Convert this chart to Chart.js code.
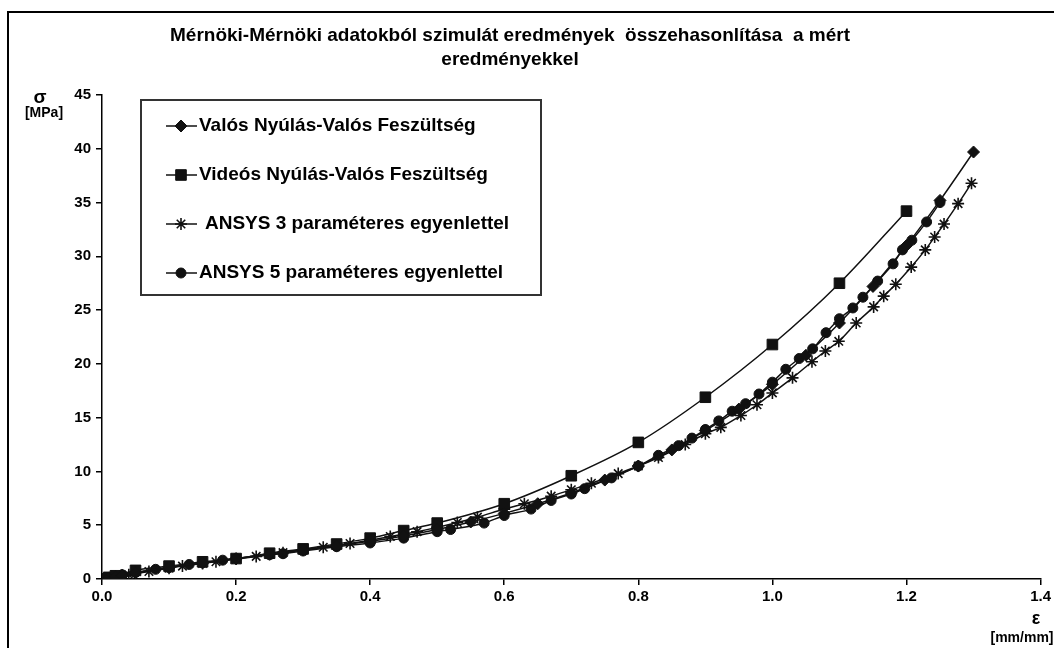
<!DOCTYPE html>
<html>
<head>
<meta charset="utf-8">
<script src="https://cdn.jsdelivr.net/npm/chart.js@4.4.1/dist/chart.umd.min.js"></script>
<style>
  html, body { margin: 0; padding: 0; background: #fff; overflow: hidden; }
  #wrap { position: relative; width: 1054px; height: 648px; }
  #frame { position: absolute; left: 7px; top: 11px; width: 1070px; height: 680px; border: 2px solid #000; }
  canvas { position: absolute; left: 0; top: 0; }
</style>
</head>
<body>
<div id="wrap">
  <div id="frame"></div>
  <canvas id="chart" width="1054" height="648"></canvas>
</div>
<script>
// --- data ---
const titleLines = ['Mérnöki-Mérnöki adatokból szimulát eredmények  összehasonlítása  a mért', 'eredményekkel'];
const seriesNames = [
  'Valós Nyúlás-Valós Feszültség',
  'Videós Nyúlás-Valós Feszültség',
  'ANSYS 3 paraméteres egyenlettel',
  'ANSYS 5 paraméteres egyenlettel'
];
const xTicks = [0, 0.2, 0.4, 0.6, 0.8, 1.0, 1.2, 1.4];
const yTicks = [0, 5, 10, 15, 20, 25, 30, 35, 40, 45];

const valosX = [0, 0.01, 0.02, 0.03, 0.05, 0.1, 0.15, 0.2, 0.25, 0.3, 0.35, 0.4, 0.45, 0.5, 0.55, 0.6, 0.65, 0.7, 0.75, 0.8, 0.85, 0.9, 0.95, 1.0, 1.05, 1.1, 1.15, 1.2, 1.25, 1.3];
const valosY = [0, 0.1, 0.2, 0.35, 0.6, 1.1, 1.5, 1.9, 2.3, 2.7, 3.1, 3.5, 4.0, 4.6, 5.3, 6.1, 7.0, 8.0, 9.2, 10.5, 12.0, 13.8, 15.8, 18.1, 20.8, 23.8, 27.2, 31.0, 35.2, 39.7];

const videoX = [0, 0.01, 0.02, 0.05, 0.1, 0.15, 0.2, 0.25, 0.3, 0.35, 0.4, 0.45, 0.5, 0.6, 0.7, 0.8, 0.9, 1.0, 1.1, 1.2];
const videoY = [0, 0.15, 0.3, 0.8, 1.2, 1.6, 1.9, 2.4, 2.8, 3.25, 3.8, 4.5, 5.2, 7.0, 9.6, 12.7, 16.9, 21.8, 27.5, 34.2];

const ansys3X = [0, 0.02, 0.04, 0.07, 0.1, 0.12, 0.15, 0.17, 0.2, 0.23, 0.27, 0.3, 0.33, 0.37, 0.4, 0.43, 0.47, 0.5, 0.53, 0.56, 0.6, 0.63, 0.67, 0.7, 0.73, 0.77, 0.8, 0.83, 0.87, 0.9, 0.923, 0.953, 0.977, 1.0, 1.03, 1.059, 1.079, 1.099, 1.125, 1.151, 1.166, 1.184, 1.207, 1.228, 1.242, 1.256, 1.277, 1.297];
const ansys3Y = [0, 0.2, 0.4, 0.7, 1.0, 1.2, 1.45, 1.6, 1.85, 2.1, 2.45, 2.7, 2.95, 3.3, 3.6, 3.95, 4.4, 4.8, 5.25, 5.75, 6.5, 7.0, 7.7, 8.3, 8.9, 9.8, 10.5, 11.3, 12.5, 13.5, 14.1, 15.2, 16.2, 17.3, 18.7, 20.2, 21.2, 22.1, 23.8, 25.3, 26.3, 27.4, 29.0, 30.6, 31.8, 33.0, 34.9, 36.8];

const ansys5X = [0, 0.01, 0.02, 0.03, 0.05, 0.08, 0.1, 0.13, 0.15, 0.18, 0.2, 0.25, 0.27, 0.3, 0.35, 0.4, 0.45, 0.5, 0.52, 0.57, 0.6, 0.64, 0.67, 0.7, 0.72, 0.76, 0.8, 0.83, 0.86, 0.88, 0.9, 0.92, 0.94, 0.96, 0.98, 1.0, 1.02, 1.04, 1.06, 1.08, 1.1, 1.12, 1.135, 1.157, 1.18, 1.194, 1.208, 1.23, 1.25];
const ansys5Y = [0, 0.1, 0.25, 0.4, 0.6, 0.9, 1.05, 1.35, 1.5, 1.75, 1.9, 2.25, 2.35, 2.6, 3.0, 3.35, 3.8, 4.4, 4.6, 5.2, 5.9, 6.5, 7.3, 7.9, 8.4, 9.4, 10.5, 11.5, 12.4, 13.1, 13.9, 14.7, 15.6, 16.3, 17.2, 18.3, 19.5, 20.5, 21.4, 22.9, 24.2, 25.2, 26.2, 27.7, 29.3, 30.6, 31.5, 33.2, 35.0];

const pts = (xs, ys) => xs.map((x, i) => ({ x: x, y: ys[i] }));
const FONT = '"Liberation Sans", Arial, sans-serif';

function series(i, xs, ys, style, r) {
  return {
    label: seriesNames[i],
    data: pts(xs, ys),
    borderColor: '#111',
    backgroundColor: '#111',
    borderWidth: 1.5,
    pointStyle: style,
    pointRadius: r,
    pointBorderWidth: style === 'star' ? 1.6 : 1,
    pointBorderColor: '#111',
    pointBackgroundColor: '#111',
    cubicInterpolationMode: 'monotone',
    fill: false
  };
}

const datasets = [
  series(0, valosX, valosY, 'rectRot', 6),
  series(1, videoX, videoY, 'rect', 7.5),
  series(2, ansys3X, ansys3Y, 'star', 6),
  series(3, ansys5X, ansys5Y, 'circle', 5)
];

// title, axis titles and the boxed legend
const decor = {
  id: 'decor',
  afterDraw(chart) {
    const c = chart.ctx;
    c.save();
    c.fillStyle = '#000';
    c.textAlign = 'center';
    c.textBaseline = 'middle';
    c.font = 'bold 19px ' + FONT;
    c.fillText(titleLines[0], 510, 36);
    c.fillText(titleLines[1], 510, 60);

    c.font = 'bold 19px ' + FONT;
    c.fillText('σ', 40, 98);
    c.font = 'bold 14px ' + FONT;
    c.fillText('[MPa]', 44, 113);
    c.font = 'bold 18px ' + FONT;
    c.fillText('ε', 1036, 619);
    c.font = 'bold 14px ' + FONT;
    c.fillText('[mm/mm]', 1022, 638);

    // legend box
    c.strokeStyle = '#333';
    c.lineWidth = 2;
    c.strokeRect(141, 100, 400, 195);
    c.textAlign = 'left';
    c.font = 'bold 19px ' + FONT;
    chart.data.datasets.forEach((ds, i) => {
      const y = 126 + i * 49;
      c.strokeStyle = '#111';
      c.lineWidth = 1.5;
      c.beginPath();
      c.moveTo(166, y);
      c.lineTo(197, y);
      c.stroke();
      c.fillStyle = '#111';
      c.lineWidth = ds.pointBorderWidth;
      Chart.helpers.drawPoint(c, { pointStyle: ds.pointStyle, radius: ds.pointRadius, rotation: 0, borderWidth: ds.pointBorderWidth }, 181, y);
      c.fillStyle = '#000';
      c.fillText(ds.label, i === 2 ? 205 : 199, y);
    });
    c.restore();
  }
};

new Chart(document.getElementById('chart').getContext('2d'), {
  type: 'line',
  data: { datasets: datasets },
  options: {
    responsive: false,
    animation: false,
    devicePixelRatio: 1,
    layout: { padding: { left: 10, top: 95, right: 12, bottom: 39 } },
    plugins: {
      legend: { display: false },
      title: { display: false },
      tooltip: { enabled: false }
    },
    scales: {
      x: {
        type: 'linear',
        min: xTicks[0],
        max: xTicks[xTicks.length - 1],
        afterBuildTicks: s => { s.ticks = xTicks.map(v => ({ value: v })); },
        ticks: {
          color: '#000',
          font: { family: FONT, size: 15, weight: 'bold' },
          padding: 3,
          maxRotation: 0,
          callback: v => Number(v).toFixed(1)
        },
        grid: { drawOnChartArea: false, tickLength: 6, color: '#000', lineWidth: 1.5 },
        border: { color: '#000', width: 1.5 },
        afterFit: s => { s.height = 30; }
      },
      y: {
        type: 'linear',
        min: yTicks[0],
        max: yTicks[yTicks.length - 1],
        afterBuildTicks: s => { s.ticks = yTicks.map(v => ({ value: v })); },
        ticks: {
          color: '#000',
          font: { family: FONT, size: 15, weight: 'bold' },
          padding: 5
        },
        grid: { drawOnChartArea: false, tickLength: 6, color: '#000', lineWidth: 1.5 },
        border: { color: '#000', width: 1.5 },
        afterFit: s => { s.width = 92; }
      }
    }
  },
  plugins: [decor]
});
</script>
</body>
</html>
